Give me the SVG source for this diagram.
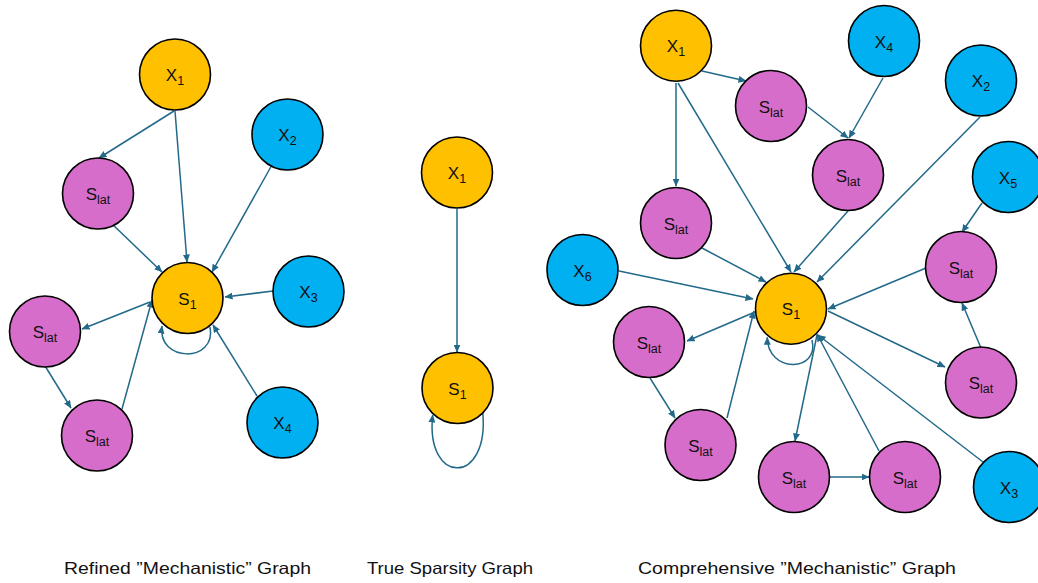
<svg xmlns="http://www.w3.org/2000/svg" width="1038" height="583" viewBox="0 0 1038 583">
<defs>
<style>
.n circle{stroke:#000;stroke-width:1.6}
.o{fill:#FFC000}
.b{fill:#00B0F0}
.p{fill:#D76DCA}
.t{font-family:"Liberation Sans",Arial,sans-serif;font-size:17px;fill:#111;text-anchor:middle}
.s{font-size:12.5px}
.e path{fill:none;stroke:#22698A;stroke-width:1.5;marker-end:url(#ah)}
.cap{font-family:"Liberation Sans",Arial,sans-serif;font-size:16.5px;fill:#111;text-anchor:middle}
</style>
<marker id="ah" markerUnits="userSpaceOnUse" markerWidth="8" markerHeight="7" refX="7.5" refY="3.5" orient="auto">
<path d="M0,0 L8,3.5 L0,7 z" fill="#22698A"/>
</marker>
</defs>
<rect width="1038" height="583" fill="#fff"/>

<g id="connectors" class="e">
<!-- left graph -->
<path d="M174,111 L99,158"/>
<path d="M175,111 L187,262"/>
<path d="M273,163 L212,272"/>
<path d="M110,222 L162,272"/>
<path d="M273,291 L225,297"/>
<path d="M150,302 L82,329"/>
<path d="M45.7,367 L71,408"/>
<path d="M122,409 L152,300"/>
<path d="M257,396 L213,325"/>
<path d="M210,327 C217,363 157,363 162,326"/>
<!-- middle graph -->
<path d="M457,209 L457,352"/>
<path d="M482.7,411.7 C490,486 425,486 432.7,415"/>
<!-- right graph -->
<path d="M702,71 L746,81"/>
<path d="M676,83 L676,186"/>
<path d="M678,83 L791,272"/>
<path d="M808,107 L848,138"/>
<path d="M883,78 L849,138"/>
<path d="M848,211 L794,272"/>
<path d="M980,117 L817,282"/>
<path d="M982,203 L962,232"/>
<path d="M702,248 L766,282"/>
<path d="M619,271 L753,299"/>
<path d="M926,268 L828,309"/>
<path d="M755,312 L687,341"/>
<path d="M727,418 L754,311"/>
<path d="M650,378 L675,418"/>
<path d="M828,311 L945,367"/>
<path d="M981,348 L962,303"/>
<path d="M817,335 L795,441"/>
<path d="M879,451 L817,334"/>
<path d="M983,462 L818,335"/>
<path d="M829,477 L869,477"/>
<path d="M812,340 C820,373 767,373 767.3,337.3"/>
</g>

<!-- left graph nodes -->
<g id="L_X1" class="n"><circle class="o" cx="175" cy="74.5" r="35.5"/><text class="t" x="175" y="81">X<tspan class="s" dy="4">1</tspan></text></g>
<g id="L_X2" class="n"><circle class="b" cx="287.5" cy="134.5" r="35.5"/><text class="t" x="287.5" y="141">X<tspan class="s" dy="4">2</tspan></text></g>
<g id="L_Slat1" class="n"><circle class="p" cx="98" cy="193.5" r="35.5"/><text class="t" x="98" y="200">S<tspan class="s" dy="4">lat</tspan></text></g>
<g id="L_S1" class="n"><circle class="o" cx="187.5" cy="298" r="35.5"/><text class="t" x="187.5" y="304.5">S<tspan class="s" dy="4">1</tspan></text></g>
<g id="L_X3" class="n"><circle class="b" cx="308.5" cy="291.5" r="35.5"/><text class="t" x="308.5" y="298">X<tspan class="s" dy="4">3</tspan></text></g>
<g id="L_Slat2" class="n"><circle class="p" cx="45" cy="331.5" r="35.5"/><text class="t" x="45" y="338">S<tspan class="s" dy="4">lat</tspan></text></g>
<g id="L_Slat3" class="n"><circle class="p" cx="97" cy="435.5" r="35.5"/><text class="t" x="97" y="442">S<tspan class="s" dy="4">lat</tspan></text></g>
<g id="L_X4" class="n"><circle class="b" cx="282.5" cy="422.5" r="35.5"/><text class="t" x="282.5" y="429">X<tspan class="s" dy="4">4</tspan></text></g>

<!-- middle graph nodes -->
<g id="M_X1" class="n"><circle class="o" cx="457" cy="172.5" r="35.5"/><text class="t" x="457" y="179">X<tspan class="s" dy="4">1</tspan></text></g>
<g id="M_S1" class="n"><circle class="o" cx="457.5" cy="388" r="35.5"/><text class="t" x="457.5" y="394.5">S<tspan class="s" dy="4">1</tspan></text></g>

<!-- right graph nodes -->
<g id="R_X1" class="n"><circle class="o" cx="676" cy="45.7" r="35.5"/><text class="t" x="676" y="52">X<tspan class="s" dy="4">1</tspan></text></g>
<g id="R_X4" class="n"><circle class="b" cx="884" cy="41" r="35.5"/><text class="t" x="884" y="47.5">X<tspan class="s" dy="4">4</tspan></text></g>
<g id="R_Slat_a" class="n"><circle class="p" cx="771" cy="106" r="35.5"/><text class="t" x="771" y="112.5">S<tspan class="s" dy="4">lat</tspan></text></g>
<g id="R_X2" class="n"><circle class="b" cx="981" cy="80.5" r="35.5"/><text class="t" x="981" y="87">X<tspan class="s" dy="4">2</tspan></text></g>
<g id="R_Slat_b" class="n"><circle class="p" cx="848" cy="175" r="35.5"/><text class="t" x="848" y="181.5">S<tspan class="s" dy="4">lat</tspan></text></g>
<g id="R_X5" class="n"><circle class="b" cx="1008" cy="177" r="35.5"/><text class="t" x="1008" y="183.5">X<tspan class="s" dy="4">5</tspan></text></g>
<g id="R_Slat_c" class="n"><circle class="p" cx="676" cy="223" r="35.5"/><text class="t" x="676" y="229.5">S<tspan class="s" dy="4">lat</tspan></text></g>
<g id="R_X6" class="n"><circle class="b" cx="582.5" cy="270" r="35.5"/><text class="t" x="582.5" y="276.5">X<tspan class="s" dy="4">6</tspan></text></g>
<g id="R_Slat_d" class="n"><circle class="p" cx="961" cy="267" r="35.5"/><text class="t" x="961" y="273.5">S<tspan class="s" dy="4">lat</tspan></text></g>
<g id="R_S1" class="n"><circle class="o" cx="791" cy="308.7" r="35.5"/><text class="t" x="791" y="315">S<tspan class="s" dy="4">1</tspan></text></g>
<g id="R_Slat_e" class="n"><circle class="p" cx="649" cy="342" r="35.5"/><text class="t" x="649" y="348.5">S<tspan class="s" dy="4">lat</tspan></text></g>
<g id="R_Slat_f" class="n"><circle class="p" cx="981" cy="382.5" r="35.5"/><text class="t" x="981" y="389">S<tspan class="s" dy="4">lat</tspan></text></g>
<g id="R_Slat_g" class="n"><circle class="p" cx="700.5" cy="445" r="35.5"/><text class="t" x="700.5" y="451.5">S<tspan class="s" dy="4">lat</tspan></text></g>
<g id="R_Slat_h" class="n"><circle class="p" cx="794" cy="477" r="35.5"/><text class="t" x="794" y="483.5">S<tspan class="s" dy="4">lat</tspan></text></g>
<g id="R_Slat_i" class="n"><circle class="p" cx="905" cy="477" r="35.5"/><text class="t" x="905" y="483.5">S<tspan class="s" dy="4">lat</tspan></text></g>
<g id="R_X3" class="n"><circle class="b" cx="1009" cy="487" r="35.5"/><text class="t" x="1009" y="493.5">X<tspan class="s" dy="4">3</tspan></text></g>

<g id="captions">
<text class="cap" x="187.5" y="574" textLength="247" lengthAdjust="spacingAndGlyphs">Refined ”Mechanistic” Graph</text>
<text class="cap" x="450" y="574" textLength="166" lengthAdjust="spacingAndGlyphs">True Sparsity Graph</text>
<text class="cap" x="797" y="574" textLength="318" lengthAdjust="spacingAndGlyphs">Comprehensive ”Mechanistic” Graph</text>
</g>
</svg>
